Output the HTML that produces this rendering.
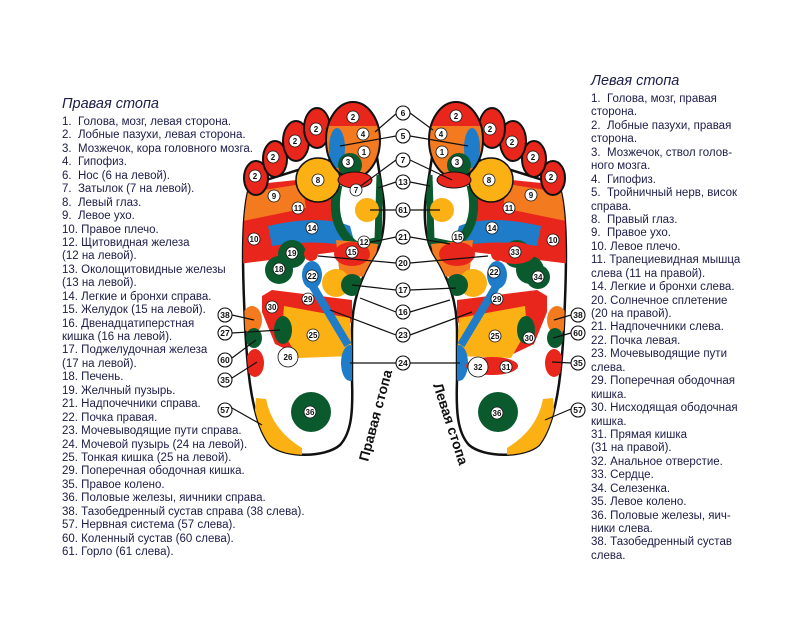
<!DOCTYPE html>
<html><head><meta charset="utf-8"><style>
body{margin:0;width:800px;height:626px;background:#fff;position:relative;overflow:hidden;font-family:"Liberation Sans",sans-serif}
.list{position:absolute;font-size:11.5px;line-height:13.44px;color:#1c1c48;white-space:nowrap}
.title{position:absolute;font-size:14.5px;font-style:italic;color:#1c1c48}
svg{position:absolute;left:0;top:0}
</style></head><body>
<div class="title" style="left:62px;top:96px">Правая стопа</div>
<div class="list" style="left:62px;top:116px">1.&nbsp; Голова, мозг, левая сторона.<br>2.&nbsp; Лобные пазухи, левая сторона.<br>3.&nbsp; Мозжечок, кора головного мозга.<br>4.&nbsp; Гипофиз.<br>6.&nbsp; Нос (6 на левой).<br>7.&nbsp; Затылок (7 на левой).<br>8.&nbsp; Левый глаз.<br>9.&nbsp; Левое ухо.<br>10. Правое плечо.<br>12. Щитовидная железа<br>(12 на левой).<br>13. Околощитовидные железы<br>(13 на левой).<br>14. Легкие и бронхи справа.<br>15. Желудок (15 на левой).<br>16. Двенадцатиперстная<br>кишка (16 на левой).<br>17. Поджелудочная железа<br>(17 на левой).<br>18. Печень.<br>19. Желчный пузырь.<br>21. Надпочечники справа.<br>22. Почка правая.<br>23. Мочевыводящие пути справа.<br>24. Мочевой пузырь (24 на левой).<br>25. Тонкая кишка (25 на левой).<br>29. Поперечная ободочная кишка.<br>35. Правое колено.<br>36. Половые железы, яичники справа.<br>38. Тазобедренный сустав справа (38 слева).<br>57. Нервная система (57 слева).<br>60. Коленный сустав (60 слева).<br>61. Горло (61 слева).</div>
<div class="title" style="left:591px;top:73px">Левая стопа</div>
<div class="list" style="left:591px;top:93px">1.&nbsp; Голова, мозг, правая<br>сторона.<br>2.&nbsp; Лобные пазухи, правая<br>сторона.<br>3.&nbsp; Мозжечок, ствол голов-<br>ного мозга.<br>4.&nbsp; Гипофиз.<br>5.&nbsp; Тройничный нерв, висок<br>справа.<br>8.&nbsp; Правый глаз.<br>9.&nbsp; Правое ухо.<br>10. Левое плечо.<br>11. Трапециевидная мышца<br>слева (11 на правой).<br>14. Легкие и бронхи слева.<br>20. Солнечное сплетение<br>(20 на правой).<br>21. Надпочечники слева.<br>22. Почка левая.<br>23. Мочевыводящие пути<br>слева.<br>29. Поперечная ободочная<br>кишка.<br>30. Нисходящая ободочная<br>кишка.<br>31. Прямая кишка<br>(31 на правой).<br>32. Анальное отверстие.<br>33. Сердце.<br>34. Селезенка.<br>35. Левое колено.<br>36. Половые железы, яич-<br>ники слева.<br>38. Тазобедренный сустав<br>слева.</div>

<svg width="800" height="626" viewBox="0 0 800 626">
<defs>
<clipPath id="fc"><path d="M250,185 C243,205 242,250 244,300 C246,360 250,420 270,445 C285,458 325,458 340,445 C352,432 353,410 352,380 L352,330 C352,300 362,275 375,255 C385,238 386,210 382,190 C380,175 378,165 376,150 L330,160 Z"/></clipPath>
<clipPath id="tc"><ellipse cx="353" cy="140" rx="27" ry="38"/></clipPath>
<g id="foot">
<path d="M250,185 C243,205 242,250 244,300 C246,360 250,420 270,445 C285,458 325,458 340,445 C352,432 353,410 352,380 L352,330 C352,300 362,275 375,255 C385,238 386,210 382,190 C380,175 378,165 376,150 L330,160 Z" fill="#fff" stroke="#111" stroke-width="2.5"/>
<g clip-path="url(#fc)">
<path d="M238,186 L336,176 Q328,220 352,250 L238,264 Z" fill="#e8261c"/>
<path d="M238,194 L302,184 L306,208 L238,222 Z" fill="#f47a20"/>
<path d="M268,226 Q320,214 350,226 L356,248 Q320,238 272,246 Z" fill="#1e7cc8"/>
<path d="M338,185 Q328,226 356,246 L386,240" fill="none" stroke="#0b5a2e" stroke-width="9"/>
<path d="M380,175 L378,240" stroke="#0b5a2e" stroke-width="7"/>
<circle cx="367" cy="210" r="12" fill="#fbb014"/>
<path d="M336,240 L378,244 L372,276 L340,278 Z" fill="#f47a20"/>
<ellipse cx="352" cy="254" rx="18" ry="12" fill="#e8261c"/>
<circle cx="292" cy="254" r="14" fill="#0b5a2e"/>
<circle cx="279" cy="270" r="14" fill="#0b5a2e"/>
<circle cx="336" cy="283" r="14" fill="#fbb014"/>
<circle cx="352" cy="285" r="11" fill="#0b5a2e"/>
<path d="M262,296 L272,290 L352,300 L352,322 L296,354 L275,344 L262,312 Z" fill="#e8261c"/>
<path d="M284,306 L350,318 L352,356 L298,358 L282,330 Z" fill="#fbb014"/>
<ellipse cx="283" cy="330" rx="9" ry="14" fill="#0b5a2e"/>
<path d="M312,285 L348,345" stroke="#1e7cc8" stroke-width="8"/>
<ellipse cx="312" cy="275" rx="10" ry="14" fill="#1e7cc8"/>
<circle cx="311" cy="254" r="7" fill="#e8261c"/>
<ellipse cx="350" cy="363" rx="9" ry="18" fill="#1e7cc8"/>
<ellipse cx="252" cy="320" rx="10" ry="14" fill="#f47a20"/>
<ellipse cx="254" cy="338" rx="8" ry="10" fill="#0b5a2e"/>
<ellipse cx="255" cy="363" rx="9" ry="14" fill="#e8261c"/>
<path d="M256,398 L266,399 Q272,430 302,448 L302,460 Q262,452 254,420 Z" fill="#fbb014"/>
</g>
<circle cx="318" cy="180" r="22" fill="#fbb014" stroke="#111" stroke-width="1.5"/>
<circle cx="311" cy="412" r="20" fill="#0b5a2e"/>
<ellipse cx="256" cy="178" rx="12" ry="17" fill="#e8261c" stroke="#111" stroke-width="2"/>
<ellipse cx="275" cy="159" rx="12" ry="18" fill="#e8261c" stroke="#111" stroke-width="2"/>
<ellipse cx="296" cy="141" rx="13" ry="20" fill="#e8261c" stroke="#111" stroke-width="2"/>
<ellipse cx="317" cy="128" rx="13" ry="20" fill="#e8261c" stroke="#111" stroke-width="2"/>
<g clip-path="url(#tc)">
<rect x="320" y="100" width="70" height="90" fill="#f47a20"/>
<path d="M320,100 L390,100 L390,126 L320,126 Z" fill="#e8261c"/>
<ellipse cx="337" cy="148" rx="8" ry="20" fill="#1e7cc8"/>
<circle cx="350" cy="165" r="12" fill="#0b5a2e"/>
</g>
<ellipse cx="353" cy="140" rx="27" ry="38" fill="none" stroke="#111" stroke-width="2"/>
<ellipse cx="355" cy="180" rx="17" ry="8" fill="#e8261c" stroke="#111" stroke-width="1"/>
</g>
</defs>
<use href="#foot"/>
<use href="#foot" transform="translate(809,0) scale(-1,1)"/>
<ellipse cx="515" cy="253" rx="20" ry="11" fill="#e8261c"/>
<circle cx="538" cy="277" r="12" fill="#0b5a2e"/>
<ellipse cx="492" cy="366" rx="26" ry="9" fill="#e8261c"/>

<g stroke="#111" stroke-width="1.2" fill="none">
<path d="M375,132 L397,113 M433,130 L410,113"/>
<path d="M340,146 L396,136 M468,146 L410,136"/>
<path d="M358,188 L396,160 M452,180 L410,160"/>
<path d="M378,188 L396,182 M430,186 L410,182"/>
<path d="M370,210 L396,210 M440,210 L410,210"/>
<path d="M362,244 L396,237 M450,244 L410,237"/>
<path d="M318,256 L396,263 M488,256 L410,263"/>
<path d="M352,285 L396,290 M456,288 L410,290"/>
<path d="M360,298 L396,312 M450,300 L410,312"/>
<path d="M330,310 L396,335 M472,312 L410,335"/>
<path d="M350,363 L396,363 M460,363 L410,363"/>
<path d="M232,315 L254,320 M232,333 L280,330 M232,358 L256,340 M232,378 L257,362 M232,408 L262,425"/>
<path d="M571,315 L554,320 M571,333 L553,338 M571,363 L552,362 M571,409 L545,420"/>
</g>
<g font-family="Liberation Sans,sans-serif" font-size="8.5" font-weight="bold" text-anchor="middle" fill="#111">
<g stroke="#111" stroke-width="1.1" fill="#fff">
<circle cx="403" cy="113" r="7"/><circle cx="403" cy="136" r="7"/><circle cx="403" cy="160" r="7"/><circle cx="403" cy="182" r="7"/><circle cx="403" cy="210" r="7"/><circle cx="403" cy="237" r="7"/><circle cx="403" cy="263" r="7"/><circle cx="403" cy="290" r="7"/><circle cx="403" cy="312" r="7"/><circle cx="403" cy="335" r="7"/><circle cx="403" cy="363" r="7"/>
<circle cx="225" cy="315" r="7"/><circle cx="225" cy="333" r="7"/><circle cx="225" cy="360" r="7"/><circle cx="225" cy="380" r="7"/><circle cx="225" cy="410" r="7"/>
<circle cx="578" cy="315" r="7"/><circle cx="578" cy="333" r="7"/><circle cx="578" cy="363" r="7"/><circle cx="578" cy="410" r="7"/>
</g>
<text x="403" y="116">6</text><text x="403" y="139">5</text><text x="403" y="163">7</text><text x="403" y="185">13</text><text x="403" y="213">61</text><text x="403" y="240">21</text><text x="403" y="266">20</text><text x="403" y="293">17</text><text x="403" y="315">16</text><text x="403" y="338">23</text><text x="403" y="366">24</text>
<text x="225" y="318">38</text><text x="225" y="336">27</text><text x="225" y="363">60</text><text x="225" y="383">35</text><text x="225" y="413">57</text>
<text x="578" y="318">38</text><text x="578" y="336">60</text><text x="578" y="366">35</text><text x="578" y="413">57</text>
</g>
<g font-family="Liberation Sans,sans-serif" font-size="8" font-weight="bold" text-anchor="middle" fill="#111">
<g fill="#fff" stroke="#111" stroke-width="0.8">
<circle cx="255" cy="176" r="6"/><circle cx="273" cy="157" r="6"/><circle cx="295" cy="141" r="6"/><circle cx="316" cy="129" r="6"/><circle cx="353" cy="117" r="6"/><circle cx="363" cy="134" r="6"/><circle cx="364" cy="152" r="6"/><circle cx="348" cy="162" r="6"/><circle cx="318" cy="180" r="6"/><circle cx="356" cy="190" r="6"/><circle cx="274" cy="196" r="6"/><circle cx="298" cy="208" r="6"/><circle cx="254" cy="239" r="6"/><circle cx="312" cy="228" r="6"/><circle cx="364" cy="242" r="6"/><circle cx="292" cy="253" r="6"/><circle cx="352" cy="252" r="6"/><circle cx="279" cy="269" r="6"/><circle cx="312" cy="276" r="6"/><circle cx="308" cy="299" r="6"/><circle cx="272" cy="307" r="6"/><circle cx="313" cy="335" r="6"/><circle cx="288" cy="357" r="10"/><circle cx="310" cy="412" r="6"/>
<circle cx="456" cy="116" r="6"/><circle cx="490" cy="129" r="6"/><circle cx="512" cy="142" r="6"/><circle cx="533" cy="157" r="6"/><circle cx="551" cy="177" r="6"/><circle cx="441" cy="134" r="6"/><circle cx="442" cy="152" r="6"/><circle cx="457" cy="162" r="6"/><circle cx="489" cy="180" r="6"/><circle cx="531" cy="195" r="6"/><circle cx="509" cy="208" r="6"/><circle cx="553" cy="240" r="6"/><circle cx="492" cy="228" r="6"/><circle cx="458" cy="237" r="6"/><circle cx="515" cy="252" r="6"/><circle cx="494" cy="272" r="6"/><circle cx="538" cy="277" r="6"/><circle cx="497" cy="299" r="6"/><circle cx="495" cy="336" r="6"/><circle cx="529" cy="338" r="6"/><circle cx="478" cy="367" r="10"/><circle cx="506" cy="367" r="6"/><circle cx="497" cy="413" r="6"/>
</g>
<text x="255" y="179">2</text><text x="273" y="160">2</text><text x="295" y="144">2</text><text x="316" y="132">2</text><text x="353" y="120">2</text><text x="363" y="137">4</text><text x="364" y="155">1</text><text x="348" y="165">3</text><text x="318" y="183">8</text><text x="356" y="193">7</text><text x="274" y="199">9</text><text x="298" y="211">11</text><text x="254" y="242">10</text><text x="312" y="231">14</text><text x="364" y="245">12</text><text x="292" y="256">19</text><text x="352" y="255">15</text><text x="279" y="272">18</text><text x="312" y="279">22</text><text x="308" y="302">29</text><text x="272" y="310">30</text><text x="313" y="338">25</text><text x="288" y="360">26</text><text x="310" y="415">36</text>
<text x="456" y="119">2</text><text x="490" y="132">2</text><text x="512" y="145">2</text><text x="533" y="160">2</text><text x="551" y="180">2</text><text x="441" y="137">4</text><text x="442" y="155">1</text><text x="457" y="165">3</text><text x="489" y="183">8</text><text x="531" y="198">9</text><text x="509" y="211">11</text><text x="553" y="243">10</text><text x="492" y="231">14</text><text x="458" y="240">15</text><text x="515" y="255">33</text><text x="494" y="275">22</text><text x="538" y="280">34</text><text x="497" y="302">29</text><text x="495" y="339">25</text><text x="529" y="341">30</text><text x="478" y="370">32</text><text x="506" y="370">31</text><text x="497" y="416">36</text>
</g>
<text transform="translate(368,462) rotate(-75)" font-family="Liberation Sans,sans-serif" font-size="14" font-weight="bold" fill="#111">Правая стопа</text>
<text transform="translate(433,385) rotate(72)" font-family="Liberation Sans,sans-serif" font-size="14" font-weight="bold" fill="#111">Левая стопа</text>
</svg>
</body></html>
